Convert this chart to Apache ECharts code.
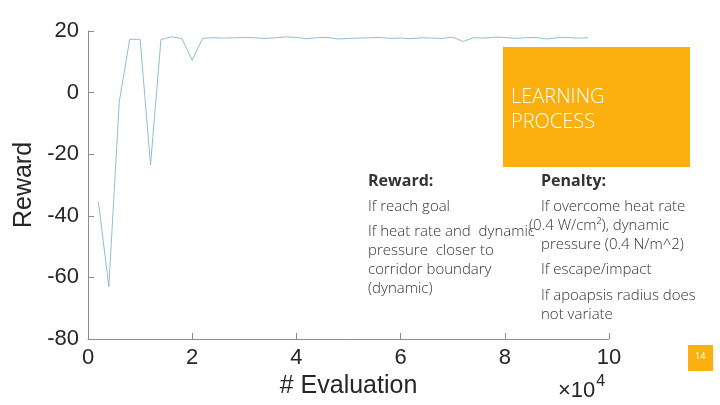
<!DOCTYPE html>
<html>
<head>
<meta charset="utf-8">
<script src="https://cdn.jsdelivr.net/npm/echarts@6/dist/echarts.min.js"></script>
<style>
  html, body { margin: 0; padding: 0; background: #fff; }
  #chart { width: 720px; height: 405px; }
</style>
</head>
<body>
<div id="chart"></div>
<script>
// evaluation count (x 10^4) and reward per evaluation
const evaluations = [
  0.2, 0.4, 0.6, 0.8, 1.0, 1.2, 1.4, 1.6, 1.8, 2.0, 2.2, 2.4, 2.6, 2.8, 3.0,
  3.2, 3.4, 3.6, 3.8, 4.0, 4.2, 4.4, 4.6, 4.8, 5.0, 5.2, 5.4, 5.6, 5.8, 6.0,
  6.2, 6.4, 6.6, 6.8, 7.0, 7.2, 7.4, 7.6, 7.8, 8.0, 8.2, 8.4, 8.6, 8.8, 9.0,
  9.2, 9.4, 9.6
];
const rewards = [
  -35.5, -63, -3, 17.3, 17.3, -23.5, 17.2, 18.1, 17.6, 10.5, 17.6, 17.8, 17.7, 17.8, 17.9,
  17.8, 17.6, 17.8, 18.1, 17.9, 17.5, 17.8, 17.9, 17.4, 17.6, 17.7, 17.8, 17.9, 17.6, 17.7,
  17.5, 17.8, 17.7, 17.6, 18.0, 16.6, 17.8, 17.7, 18.0, 17.9, 17.6, 17.8, 17.9, 17.4, 17.8,
  17.9, 17.7, 17.8
];
const xTicks = [0, 2, 4, 6, 8, 10];
const yTicks = [-80, -60, -40, -20, 0, 20];

const rewardLines = ["If reach goal", "If heat rate and  dynamic", "pressure  closer to", "corridor boundary", "(dynamic)"];
const penaltyLines = ["If overcome heat rate", "(0.4 W/cm²), dynamic", "pressure (0.4 N/m^2)", "If escape/impact", "If apoapsis radius does", "not variate"];

const chart = echarts.init(document.getElementById("chart"));

const axisColor = "#8c8c8c";
const labelColor = "#262626";
const orange = "#fbb00f";
const slideFont = "Open Sans";

const textStyle = (x, y, text, size, weight, color) => ({
  type: "text",
  left: x,
  top: y,
  style: { text: text, font: weight + " " + size + "px '" + slideFont + "'", fill: color }
});

const graphics = [
  { type: "rect", shape: { x: 503, y: 47, width: 187, height: 120 }, style: { fill: orange } },
  textStyle(511, 87, "LEARNING", 20, 300, "#fff"),
  textStyle(511, 112, "PROCESS", 20, 300, "#fff"),
  { type: "rect", shape: { x: 688, y: 345, width: 25, height: 26 }, style: { fill: orange } },
  textStyle(695, 352, "14", 9, 400, "#fff"),
  textStyle(368, 173, "Reward:", 16, 700, "#333"),
  textStyle(541, 173, "Penalty:", 16, 700, "#333"),
  {
    type: "text", left: 558, top: 374,
    style: {
      text: "{a|×10}{b|4}",
      rich: {
        a: { font: "22px 'Liberation Sans'", fill: labelColor, verticalAlign: "bottom" },
        b: { font: "16px 'Liberation Sans'", fill: labelColor, verticalAlign: "top", padding: [0, 0, 12, 1] }
      }
    }
  }
];
const rewardY = [199, 224, 243, 262, 281];
rewardLines.forEach((t, i) => graphics.push(textStyle(368, rewardY[i], t, 15, 300, "#333")));
const penaltyY = [199, 218, 237, 262, 288, 307];
const penaltyX = [541, 529, 541, 541, 541, 541];
penaltyLines.forEach((t, i) => graphics.push(textStyle(penaltyX[i], penaltyY[i], t, 15, 300, "#333")));

const option = {
  animation: false,
  backgroundColor: "#fff",
  grid: { left: 88, right: 111, top: 31, bottom: 66 },
  xAxis: {
    type: "value",
    min: xTicks[0],
    max: xTicks[xTicks.length - 1],
    interval: 2,
    name: "# Evaluation",
    nameLocation: "middle",
    nameGap: 35,
    nameTextStyle: { fontFamily: "Liberation Sans", fontSize: 25, color: labelColor },
    axisLine: { onZero: false, lineStyle: { color: axisColor } },
    axisTick: { inside: true, length: 6, lineStyle: { color: axisColor } },
    axisLabel: { fontFamily: "Liberation Sans", fontSize: 22, color: labelColor, margin: 8 },
    splitLine: { show: false }
  },
  yAxis: {
    type: "value",
    min: yTicks[0],
    max: yTicks[yTicks.length - 1],
    interval: 20,
    name: "Reward",
    nameLocation: "middle",
    nameGap: 45,
    nameTextStyle: { fontFamily: "Liberation Sans", fontSize: 25, color: labelColor },
    axisLine: { show: true, onZero: false, lineStyle: { color: axisColor } },
    axisTick: { show: true, inside: true, length: 6, lineStyle: { color: axisColor } },
    axisLabel: { fontFamily: "Liberation Sans", fontSize: 22, color: labelColor, margin: 9 },
    splitLine: { show: false }
  },
  series: [
    {
      type: "line",
      data: evaluations.map((x, i) => [x, rewards[i]]),
      showSymbol: false,
      lineStyle: { color: "#93bdd3", width: 1 },
      z: 1
    }
  ],
  graphic: graphics
};

chart.setOption(option);
</script>
</body>
</html>
